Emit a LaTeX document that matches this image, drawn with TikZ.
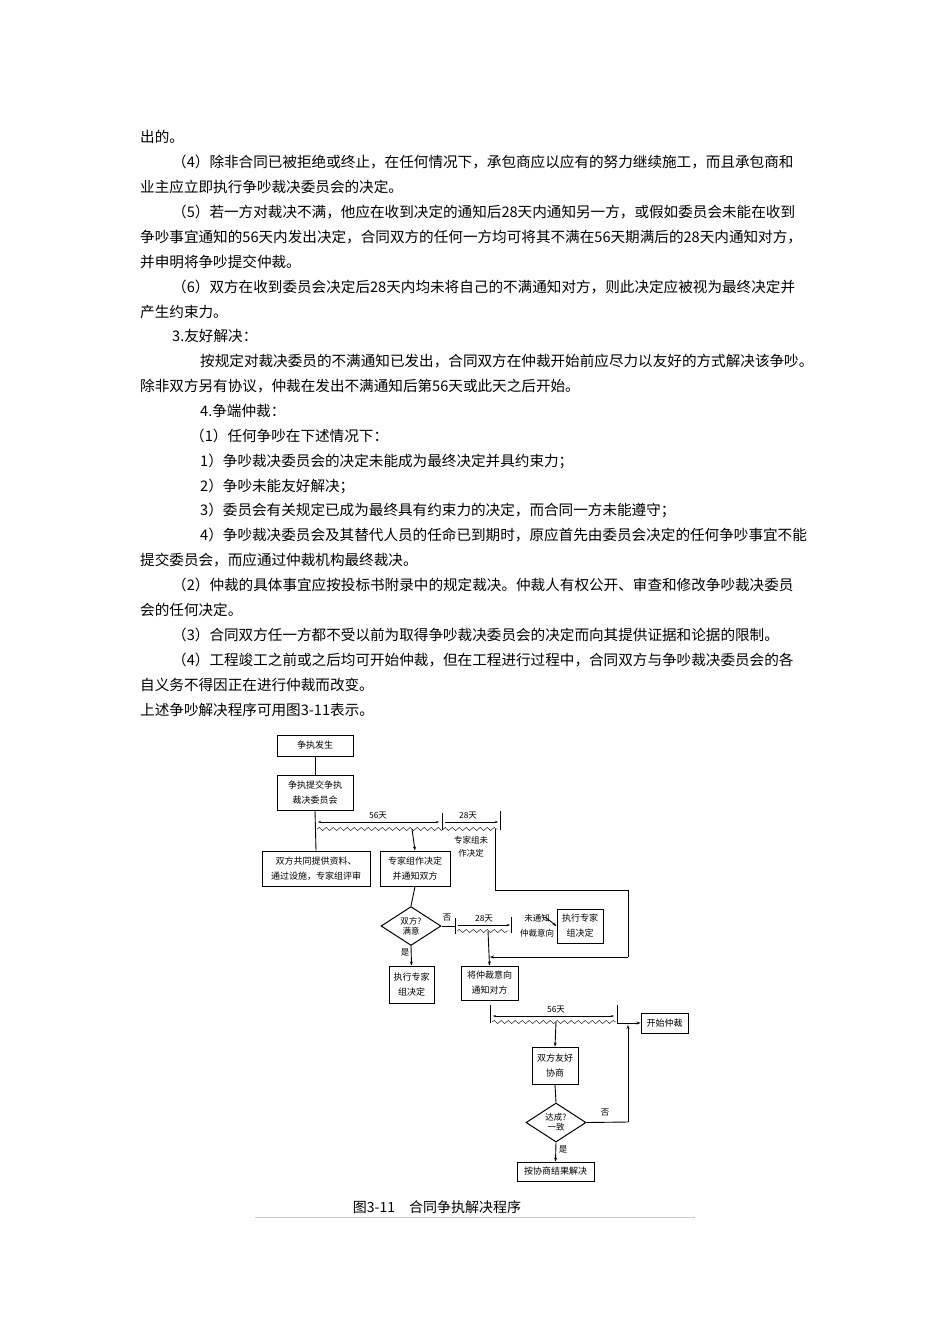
\documentclass[tikz,border=0pt]{standalone}
\usepackage{fontspec}
\setmainfont{Liberation Serif}
\newfontfamily\cjk{Noto Sans CJK SC}
\usetikzlibrary{decorations.pathmorphing,arrows.meta,shapes.geometric}
\begin{document}
\begin{tikzpicture}[x=1pt,y=-1pt,
  body/.style={anchor=west,inner sep=0,font=\cjk\fontsize{14.6}{15}\selectfont},
  bx/.style={draw,line width=1pt,inner sep=1pt,align=center,font=\cjk\fontsize{9}{15}\selectfont},
  lb/.style={inner sep=0,font=\cjk\fontsize{8.5}{10}\selectfont},
  dia/.style={draw,line width=1pt,diamond,inner sep=0,align=center,font=\cjk\fontsize{8.5}{10}\selectfont},
  wav/.style={decorate,decoration={snake,amplitude=1.6pt,segment length=7pt}},
  ln/.style={line width=0.9pt},
  ar/.style={ln,-{Stealth[length=4pt]}}]
\useasboundingbox (0,0) rectangle (950,1344);
\fill[white] (0,0) rectangle (950,1344);
% body text
\node[body] (t1) at (140,137) {出的。};
\node[body] (t2) at (172,162) {（4）除非合同已被拒绝或终止，在任何情况下，承包商应以应有的努力继续施工，而且承包商和};
\node[body] (t3) at (140,187) {业主应立即执行争吵裁决委员会的决定。};
\node[body] (t4) at (172,212) {（5）若一方对裁决不满，他应在收到决定的通知后28天内通知另一方，或假如委员会未能在收到};
\node[body] (t5) at (140,237) {争吵事宜通知的56天内发出决定，合同双方的任何一方均可将其不满在56天期满后的28天内通知对方，};
\node[body] (t6) at (140,262) {并申明将争吵提交仲裁。};
\node[body] (t7) at (172,287) {（6）双方在收到委员会决定后28天内均未将自己的不满通知对方，则此决定应被视为最终决定并};
\node[body] (t8) at (140,312) {产生约束力。};
\node[body] (t9) at (172,336) {3.友好解决：};
\node[body] (t10) at (200,361) {按规定对裁决委员的不满通知已发出，合同双方在仲裁开始前应尽力以友好的方式解决该争吵。};
\node[body] (t11) at (140,386) {除非双方另有协议，仲裁在发出不满通知后第56天或此天之后开始。};
\node[body] (t12) at (200,411) {4.争端仲裁：};
\node[body] (t13) at (190,436) {（1）任何争吵在下述情况下：};
\node[body] (t14) at (200,461) {1）争吵裁决委员会的决定未能成为最终决定并具约束力；};
\node[body] (t15) at (200,486) {2）争吵未能友好解决；};
\node[body] (t16) at (200,510) {3）委员会有关规定已成为最终具有约束力的决定，而合同一方未能遵守；};
\node[body] (t17) at (200,535) {4）争吵裁决委员会及其替代人员的任命已到期时，原应首先由委员会决定的任何争吵事宜不能};
\node[body] (t18) at (140,560) {提交委员会，而应通过仲裁机构最终裁决。};
\node[body] (t19) at (172,585) {（2）仲裁的具体事宜应按投标书附录中的规定裁决。仲裁人有权公开、审查和修改争吵裁决委员};
\node[body] (t20) at (140,610) {会的任何决定。};
\node[body] (t21) at (172,635) {（3）合同双方任一方都不受以前为取得争吵裁决委员会的决定而向其提供证据和论据的限制。};
\node[body] (t22) at (172,660) {（4）工程竣工之前或之后均可开始仲裁，但在工程进行过程中，合同双方与争吵裁决委员会的各};
\node[body] (t23) at (140,685) {自义务不得因正在进行仲裁而改变。};
\node[body] (t24) at (140,710) {上述争吵解决程序可用图3-11表示。};
% flowchart nodes
\node[bx,minimum width=76,minimum height=21] (a) at (315,745.5) {争执发生};
\node[bx,minimum width=76,minimum height=35] (b) at (315,792.5) {争执提交争执\\裁决委员会};
\node[bx,minimum width=108,minimum height=35] (c) at (316,868.5) {双方共同提供资料、\\通过设施，专家组评审};
\node[bx,minimum width=70,minimum height=35] (d) at (415,868.5) {专家组作决定\\并通知双方};
\node[dia,minimum width=60,minimum height=34] (e) at (411,926) {双方?\\满意};
\node[bx,minimum width=46,minimum height=34] (f) at (580,926) {执行专家\\组决定};
\node[bx,minimum width=45,minimum height=37] (g) at (411.5,984.5) {执行专家\\组决定};
\node[bx,minimum width=57,minimum height=34] (h) at (489.5,983) {将仲裁意向\\通知对方};
\node[bx,minimum width=47,minimum height=20] (i) at (664.5,1023) {开始仲裁};
\node[bx,minimum width=46,minimum height=37] (j) at (555,1065.5) {双方友好\\协商};
\node[dia,minimum width=60,minimum height=39] (k) at (556,1122.5) {达成?\\一致};
\node[bx,minimum width=77,minimum height=19] (l) at (555.5,1171.5) {按协商结果解决};
% labels
\node[lb] (n56a) at (378,816) {56天};
\node[lb] (n28a) at (468,816) {28天};
\node[lb,align=center,font=\cjk\fontsize{8.5}{13}\selectfont] (nw) at (471,847) {专家组未\\作决定};
\node[lb] (no1) at (447,917) {否};
\node[lb] (n28b) at (484,919) {28天};
\node[lb,align=center,font=\cjk\fontsize{8.5}{15}\selectfont] (nn) at (537,926) {未通知\\仲裁意向};
\node[lb] (yes1) at (405,952) {是};
\node[lb] (n56b) at (556,1010) {56天};
\node[lb] (no2) at (605,1112) {否};
\node[lb] (yes2) at (563,1149) {是};
% timeline 1
\draw[ln] (a) -- (b);
\draw[ln] (b.south) -- (c.north);
\draw[ln,{Stealth[length=3pt]}-{Stealth[length=3pt]}] (318,822) -- (439,822);
\draw[ln,-{Stealth[length=3pt]}] (445,822) -- (498,822);
\draw[ln] (442,813) -- (442,830);
\draw[ln] (500,811) -- (500,830);
\draw[wav] (317,829) -- (498,829);
\draw[ar] (412,829) -- (d.north);
\draw[ln] (d.south) -- (e.north);
\draw[ln] (495,829) -- (495,890) -- (628,890) -- (628,957);
\draw[ar] (628,957) -- (490,957);
% timeline 2
\draw[ln] (e.east) -- (455,926);
\draw[ln] (455,918) -- (455,934);
\draw[ln,-{Stealth[length=3pt]}] (458,925) -- (510,925);
\draw[ln] (511,917) -- (511,933);
\draw[wav] (457,931) -- (510,931);
\draw[ar] (488,931) -- (h.north);
\draw[ar] (545,917) -- (f.west);
\draw[ar] (e.south) -- (g.north);
% timeline 3
\draw[ln] (490,1005) -- (490,1023);
\draw[ln,{Stealth[length=3pt]}-{Stealth[length=3pt]}] (493,1016) -- (614,1016);
\draw[ln] (617,1005) -- (617,1023);
\draw[wav] (492,1022) -- (616,1022);
\draw[ar] (617,1023) -- (i.west);
\draw[ar] (556,1022) -- (j.north);
\draw[ln] (j.south) -- (k.north);
\draw[ln] (k.east) -- (628,1122);
\draw[ar] (628,1122) -- (628,1025);
\draw[ar] (k.south) -- (l.north);
% caption
\node[inner sep=0,font=\cjk\fontsize{14}{16}\selectfont] (cap) at (437,1207) {图3-11\quad 合同争执解决程序};
\draw[gray!40,line width=0.8pt] (255,1217) -- (695,1217);
\end{tikzpicture}
\end{document}
